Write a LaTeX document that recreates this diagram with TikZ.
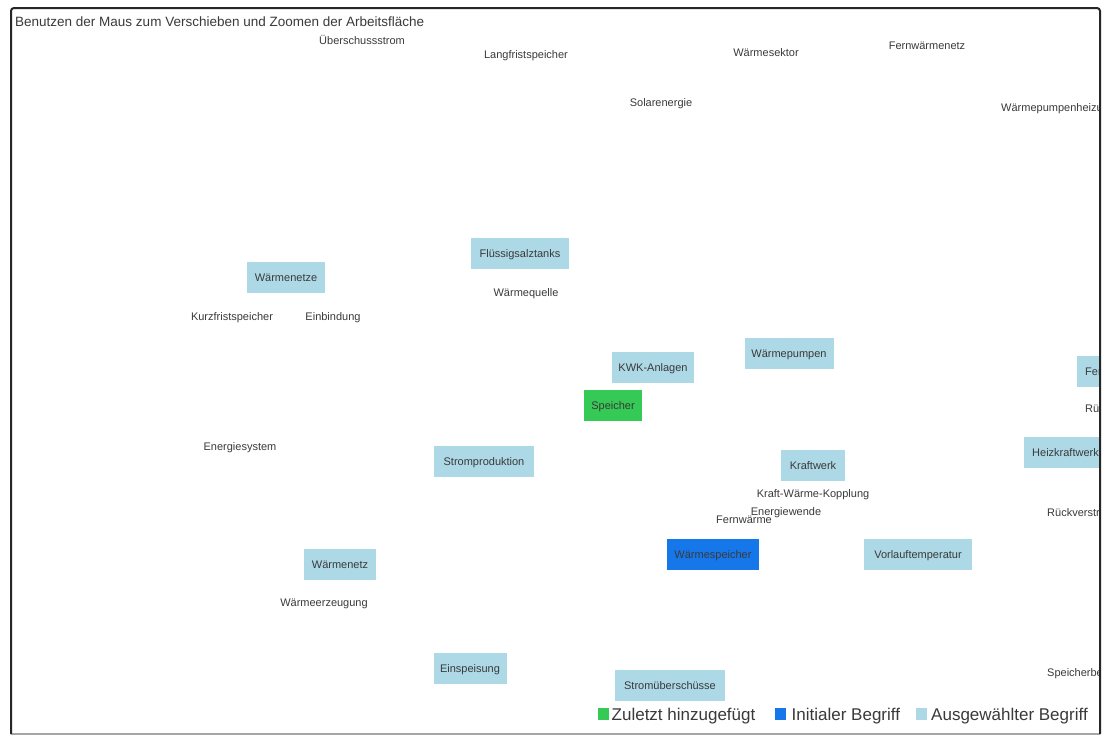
\documentclass[tikz,border=0pt]{standalone}
\usepackage{fontspec}
\setmainfont{Liberation Sans}
\definecolor{selblue}{HTML}{ADD8E6}
\definecolor{initblue}{HTML}{1677EB}
\definecolor{lastgreen}{HTML}{35C955}
\definecolor{txt}{HTML}{3A3A3A}
\tikzset{
  basetext/.style={inner sep=0pt, text=txt, font=\fontsize{11}{13}\selectfont, text height=8pt, text depth=0pt},
  term/.style={basetext, yshift=-1pt},
  selbox/.style={basetext, fill=selblue, minimum height=31pt},
  initbox/.style={selbox, fill=initblue},
  lastbox/.style={selbox, fill=lastgreen},
  legendtxt/.style={inner sep=0pt, anchor=west, text=txt, font=\fontsize{17}{19}\selectfont, text height=12pt, text depth=0pt, yshift=-0.5pt},
  legendsq/.style={inner sep=0pt, minimum size=11.5pt},
}
\begin{document}
\begin{tikzpicture}[x=1pt,y=-1pt]
\useasboundingbox (0,0) rectangle (1108,736);
\fill[white] (0,0) rectangle (1108,736);
\begin{scope}
\clip (11,8) rectangle (1100,734);
% title
\node[inner sep=0pt, anchor=west, text=txt, font=\fontsize{13.5}{15}\selectfont, text height=10pt, text depth=0pt] (title) at (15,22) {Benutzen der Maus zum Verschieben und Zoomen der Arbeitsfläche};
% plain terms
\node[term] (t1) at (362,39) {Überschussstrom};
\node[term] (t2) at (526,53) {Langfristspeicher};
\node[term] (t3) at (766,51) {Wärmesektor};
\node[term] (t4) at (927,44) {Fernwärmenetz};
\node[term] (t5) at (661,101) {Solarenergie};
\node[term, anchor=west] (t6) at (1001,106) {Wärmepumpenheizung};
\node[term] (t7) at (526,291) {Wärmequelle};
\node[term] (t8) at (232,315) {Kurzfristspeicher};
\node[term] (t9) at (333,315) {Einbindung};
\node[term] (t10) at (240,445) {Energiesystem};
\node[term] (t11) at (813,492) {Kraft-Wärme-Kopplung};
\node[term] (t13) at (744,518) {Fernwärme};
\node[term] (t12) at (786,510) {Energiewende};
\node[term, anchor=west] (t14) at (1047,511) {Rückverstromung};
\node[term, anchor=west] (t15) at (1085,407) {Rücklauftemperatur};
\node[term] (t16) at (324,601) {Wärmeerzeugung};
\node[term, anchor=west] (t17) at (1047,671) {Speicherbetrieb};
\node[term] (t18) at (310,742) {Flexibilität};
% boxes
\node[selbox, minimum width=98pt] (b1) at (520,253) {Flüssigsalztanks};
\node[selbox, minimum width=78pt] (b2) at (286,277) {Wärmenetze};
\node[selbox, minimum width=82pt] (b3) at (653,367) {KWK-Anlagen};
\node[selbox, minimum width=89pt] (b4) at (789,353) {Wärmepumpen};
\node[lastbox, minimum width=58pt] (b5) at (613,405) {Speicher};
\node[selbox, minimum width=100pt] (b6) at (484,461) {Stromproduktion};
\node[selbox, minimum width=64pt] (b7) at (813,465) {Kraftwerk};
\node[selbox, minimum width=100pt, anchor=west, text width=86pt, align=left, inner xsep=8pt] (b8) at (1024,452) {Heizkraftwerk};
\node[selbox, minimum width=80pt, anchor=west, text width=70pt, align=left, inner xsep=8pt] (b9) at (1077,371) {Fernwärmespeicher};
\node[initbox, minimum width=92pt] (b10) at (713,554) {Wärmespeicher};
\node[selbox, minimum width=108pt] (b11) at (918,554) {Vorlauftemperatur};
\node[selbox, minimum width=72pt] (b12) at (340,564) {Wärmenetz};
\node[selbox, minimum width=73pt] (b13) at (470,668) {Einspeisung};
\node[selbox, minimum width=110pt] (b14) at (670,685) {Stromüberschüsse};
% legend
\node[legendsq, fill=lastgreen] (l1) at (603.5,714) {};
\node[legendtxt] (lt1) at (611.5,714) {Zuletzt hinzugefügt};
\node[legendsq, fill=initblue] (l2) at (780.5,714) {};
\node[legendtxt] (lt2) at (791.5,714) {Initialer Begriff};
\node[legendsq, fill=selblue] (l3) at (921.5,714) {};
\node[legendtxt] (lt3) at (931,714) {Ausgewählter Begriff};
\end{scope}
% frame
\draw[line width=1.2pt, gray!70] (11,734) -- (1100,734);
\draw[line width=2pt, black!85, rounded corners=3pt] (11,734) -- (11,8) -- (1100,8) -- (1100,734);
\end{tikzpicture}
\end{document}
